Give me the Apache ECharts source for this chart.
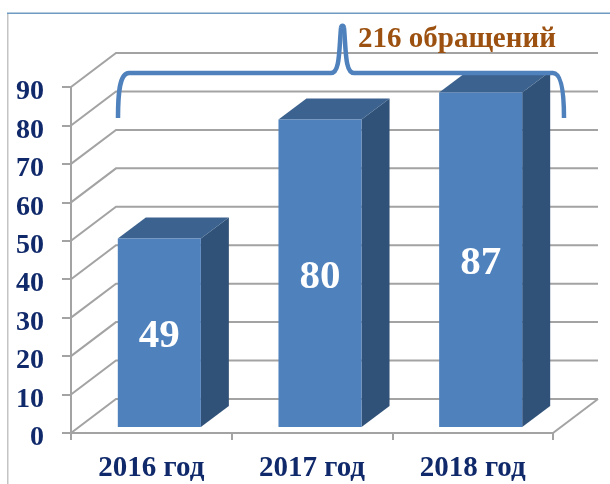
<!DOCTYPE html>
<html>
<head>
<meta charset="utf-8">
<style>html,body{margin:0;padding:0;background:#fff}#c{width:610px;height:484px}</style>
<script src="https://cdn.jsdelivr.net/npm/echarts@6/dist/echarts.min.js"></script>
</head>
<body>
<div id="c"></div>
<script>
const categories = ['2016 год', '2017 год', '2018 год'];
const values = [49, 80, 87];
const wallTicks = [0, 10, 20, 30, 40, 50, 60, 70, 80, 90];
const annotation = '216 обращений';

const serif = '"Liberation Serif","Times New Roman",serif';
const navy = '#10296a';
const gridGrey = '#a3a3a3';
const wallDx = 45, wallDy = -34;
const barOffsetX = 8, barOffsetY = -6, depthX = 28, depthY = -21, barRatio = 0.517;

function renderWall(params, api) {
  const v = api.value(0);
  const cs = params.coordSys;
  const p = api.coord([0, v]);
  const x0 = cs.x, y = p[1];
  const xr = cs.x + cs.width;
  const lineStyle = {stroke: gridGrey, lineWidth: 2, fill: null};
  const children = [{
    type: 'polyline',
    shape: {points: [[x0, y], [x0 + wallDx, y + wallDy], [xr + wallDx, y + wallDy]]},
    style: lineStyle
  }];
  if (v === 0) {
    children.push({
      type: 'line',
      shape: {x1: xr, y1: y, x2: xr + wallDx, y2: y + wallDy},
      style: lineStyle
    });
  }
  return {type: 'group', children};
}

function renderBar(params, api) {
  const idx = api.value(0);
  const val = api.value(1);
  const top = api.coord([idx, val]);
  const base = api.coord([idx, 0]);
  const w = api.size([1, 0])[0] * barRatio;
  const l = top[0] + barOffsetX - w / 2;
  const r = l + w;
  const t = top[1] + barOffsetY;
  const b = base[1] + barOffsetY;
  return {
    type: 'group',
    children: [
      {type: 'polygon', shape: {points: [[r, t], [r + depthX, t + depthY], [r + depthX, b + depthY], [r, b]]}, style: {fill: '#315278'}},
      {type: 'polygon', shape: {points: [[l, t], [l + depthX, t + depthY], [r + depthX, t + depthY], [r, t]]}, style: {fill: '#3c628f'}},
      {type: 'rect', shape: {x: l, y: t, width: w, height: b - t}, style: {fill: '#4f81bd'}},
      {type: 'text', x: (l + r) / 2, y: (t + b) / 2 + 4,
        style: {text: String(val), fill: '#fff', font: 'bold 41px ' + serif, align: 'center', verticalAlign: 'middle'}}
    ]
  };
}

const braceStyle = {stroke: '#4f81bd', lineWidth: 4.5, fill: null};
function curve(x1, y1, cpx1, cpy1, cpx2, cpy2, x2, y2) {
  return {type: 'bezierCurve', silent: true, z: 10, shape: {x1, y1, cpx1, cpy1, cpx2, cpy2, x2, y2}, style: braceStyle};
}
function straight(x1, y1, x2, y2) {
  return {type: 'line', silent: true, z: 10, shape: {x1, y1, x2, y2}, style: braceStyle};
}

const chart = echarts.init(document.getElementById('c'), null, {renderer: 'canvas'});
chart.setOption({
  animation: false,
  backgroundColor: '#fff',
  grid: {left: 71, top: 87, width: 482, height: 346, containLabel: false},
  xAxis: {
    type: 'category',
    data: categories,
    boundaryGap: true,
    axisLine: {show: true, onZero: false, lineStyle: {color: gridGrey, width: 2}},
    axisTick: {show: true, alignWithLabel: false, length: 7, lineStyle: {color: gridGrey, width: 2}},
    axisLabel: {color: navy, fontFamily: serif, fontWeight: 'bold', fontSize: 29, margin: 21, interval: 0, hideOverlap: false}
  },
  yAxis: {
    type: 'value',
    min: 0,
    max: 90,
    interval: 10,
    axisLine: {show: true, lineStyle: {color: gridGrey, width: 2}},
    axisTick: {show: true, length: 9, lineStyle: {color: gridGrey, width: 2}},
    splitLine: {show: false},
    axisLabel: {color: navy, fontFamily: serif, fontWeight: 'bold', fontSize: 28, margin: 27, verticalAlign: 'top', lineHeight: 10}
  },
  series: [
    {
      type: 'custom', silent: true, z: 1, clip: false,
      renderItem: renderWall,
      data: wallTicks.map(v => [v]),
      encode: {y: 0}
    },
    {
      type: 'custom', silent: true, z: 3, clip: false,
      renderItem: renderBar,
      data: values.map((v, i) => [i, v]),
      encode: {x: 0, y: 1}
    }
  ],
  graphic: [
    {type: 'rect', silent: true, z: 0, shape: {x: 7, y: 13, width: 1.5, height: 471}, style: {fill: '#c4c4c4'}},
    {type: 'rect', silent: true, z: 0, shape: {x: 7, y: 12.5, width: 603, height: 1.5}, style: {fill: '#6f9bc2'}},
    curve(118, 118, 118, 96, 119, 73, 129, 73),
    straight(129, 73, 331, 73),
    curve(331, 73, 340, 73, 339, 50, 341, 28),
    curve(341, 28, 341.5, 25, 343.5, 25, 344, 28),
    curve(344, 28, 346, 50, 345, 73, 354, 73),
    straight(354, 73, 553, 73),
    curve(553, 73, 562, 73, 564, 96, 564, 118),
    {type: 'text', silent: true, z: 11, x: 358, y: 25,
      style: {text: annotation, fill: '#9c5110', font: 'bold 29px ' + serif}}
  ]
});
</script>
</body>
</html>
